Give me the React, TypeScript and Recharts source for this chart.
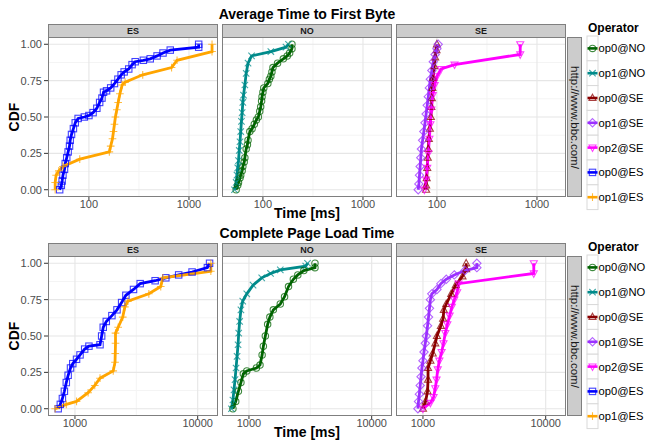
import React from 'react'
import { LineChart, Line, XAxis, YAxis, ReferenceLine } from 'recharts'

// time (ms), CDF pairs
// --- Average Time to First Byte
const ttfbOp0NO = [[54, 0], [56, 0.03], [57, 0.05], [59, 0.08], [60, 0.1], [62, 0.13], [63, 0.16], [65, 0.19], [66, 0.22], [68, 0.28], [70, 0.31], [71, 0.34], [74, 0.4], [78, 0.42], [82, 0.45], [86, 0.48], [90, 0.5], [93, 0.54], [95, 0.57], [97, 0.61], [98, 0.64], [100, 0.67], [102, 0.7], [112, 0.73], [116, 0.76], [120, 0.78], [123, 0.81], [126, 0.84], [140, 0.87], [160, 0.9], [175, 0.92], [185, 0.94], [195, 0.97], [195, 1.0]]
const ttfbOp1NO = [[52, 0], [54, 0.05], [55, 0.1], [56, 0.15], [57, 0.2], [58, 0.27], [59, 0.33], [60, 0.4], [61, 0.47], [62, 0.53], [63, 0.6], [64, 0.65], [66, 0.72], [68, 0.8], [71, 0.87], [77, 0.92], [120, 0.95], [170, 0.98], [180, 1.0]]
const ttfbOp0SE = [[78, 0], [78, 0.03], [79, 0.08], [80, 0.15], [81, 0.22], [82, 0.28], [83, 0.35], [85, 0.42], [87, 0.5], [88, 0.57], [89, 0.63], [90, 0.7], [92, 0.77], [94, 0.85], [96, 0.91], [99, 0.96], [100, 1.0]]
const ttfbOp1SE = [[65, 0], [66, 0.04], [67, 0.1], [68, 0.16], [69, 0.22], [70, 0.28], [72, 0.34], [74, 0.4], [76, 0.46], [78, 0.52], [80, 0.58], [82, 0.64], [84, 0.7], [86, 0.76], [89, 0.82], [92, 0.88], [96, 0.93], [100, 0.97], [103, 1.0]]
const ttfbOp2SE = [[75, 0], [78, 0.07], [80, 0.15], [82, 0.25], [84, 0.35], [86, 0.45], [88, 0.55], [91, 0.65], [95, 0.72], [100, 0.78], [110, 0.83], [150, 0.86], [680, 0.93], [680, 1.0]]
const ttfbOp0ES = [[51, 0], [53, 0.03], [54, 0.06], [55, 0.1], [57, 0.14], [58, 0.18], [60, 0.22], [62, 0.26], [64, 0.3], [65, 0.34], [67, 0.38], [70, 0.42], [73, 0.46], [78, 0.49], [90, 0.5], [100, 0.51], [110, 0.53], [120, 0.56], [128, 0.6], [135, 0.63], [140, 0.67], [150, 0.68], [165, 0.7], [180, 0.73], [195, 0.76], [210, 0.79], [225, 0.81], [250, 0.83], [270, 0.86], [290, 0.88], [350, 0.89], [410, 0.9], [480, 0.92], [550, 0.94], [650, 0.96], [1250, 0.98], [1250, 1.0]]
const ttfbOp1ES = [[46, 0], [46, 0.05], [47, 0.1], [50, 0.13], [55, 0.16], [81, 0.21], [160, 0.26], [165, 0.3], [172, 0.35], [176, 0.4], [180, 0.45], [184, 0.5], [190, 0.55], [196, 0.6], [204, 0.66], [215, 0.72], [230, 0.74], [345, 0.79], [670, 0.84], [760, 0.89], [1700, 0.95], [1700, 1.0]]

// --- Complete Page Load Time
const pltOp0NO = [[740, 0], [780, 0.05], [820, 0.12], [860, 0.18], [900, 0.24], [960, 0.26], [1150, 0.28], [1230, 0.3], [1280, 0.37], [1310, 0.43], [1360, 0.5], [1420, 0.58], [1480, 0.63], [1580, 0.68], [1800, 0.72], [1950, 0.77], [2100, 0.84], [2300, 0.89], [2500, 0.92], [2800, 0.95], [3450, 0.97], [3450, 1.0]]
const pltOp1NO = [[720, 0], [740, 0.06], [755, 0.13], [770, 0.2], [785, 0.28], [800, 0.36], [815, 0.44], [825, 0.52], [840, 0.6], [860, 0.68], [890, 0.74], [960, 0.79], [1080, 0.85], [1270, 0.9], [1500, 0.93], [1800, 0.955], [2900, 0.98], [3000, 1.0]]
const pltOp0SE = [[1000, 0], [1050, 0.05], [1090, 0.12], [1100, 0.2], [1100, 0.28], [1150, 0.33], [1200, 0.38], [1260, 0.45], [1300, 0.5], [1400, 0.57], [1460, 0.62], [1480, 0.68], [1550, 0.72], [1700, 0.79], [1850, 0.85], [2100, 0.91], [2250, 0.96], [2250, 1.0]]
const pltOp1SE = [[910, 0], [920, 0.05], [935, 0.1], [950, 0.16], [965, 0.22], [980, 0.28], [1000, 0.33], [1020, 0.39], [1045, 0.45], [1065, 0.5], [1090, 0.57], [1110, 0.63], [1130, 0.69], [1150, 0.75], [1180, 0.79], [1300, 0.82], [1400, 0.86], [1550, 0.89], [1800, 0.92], [2200, 0.95], [2750, 0.97], [2750, 1.0]]
const pltOp2SE = [[1000, 0], [1150, 0.04], [1220, 0.08], [1260, 0.14], [1290, 0.2], [1320, 0.27], [1360, 0.33], [1420, 0.39], [1470, 0.45], [1520, 0.52], [1580, 0.58], [1650, 0.64], [1720, 0.7], [1800, 0.75], [1900, 0.8], [1950, 0.86], [8000, 0.93], [8000, 1.0]]
const pltOp0ES = [[730, 0], [760, 0.03], [790, 0.07], [820, 0.12], [850, 0.18], [880, 0.23], [920, 0.28], [960, 0.31], [1030, 0.34], [1100, 0.37], [1200, 0.41], [1300, 0.43], [1600, 0.44], [1650, 0.5], [1700, 0.56], [1800, 0.6], [2000, 0.64], [2200, 0.68], [2400, 0.73], [2600, 0.78], [3000, 0.82], [3400, 0.86], [4500, 0.88], [5500, 0.9], [7000, 0.92], [9000, 0.94], [12000, 0.97], [12500, 1.0]]
const pltOp1ES = [[690, 0], [850, 0.03], [1030, 0.05], [1280, 0.11], [1450, 0.16], [1600, 0.21], [2050, 0.26], [2120, 0.32], [2130, 0.38], [2140, 0.45], [2140, 0.52], [2250, 0.56], [2450, 0.63], [2550, 0.7], [2700, 0.74], [4000, 0.79], [5000, 0.84], [5200, 0.9], [12800, 0.945], [12800, 1.0]]

const operators = ['op0@NO', 'op1@NO', 'op0@SE', 'op1@SE', 'op2@SE', 'op0@ES', 'op1@ES']
const colors = ['#006400', '#008B8B', '#8B0000', '#9B30FF', '#FF00FF', '#0000FF', '#FFA500']
const shapes = ['circle', 'cross', 'triUp', 'diamond', 'triDown', 'square', 'plus']

const facets = ['ES', 'NO', 'SE']
const facetOperators = [[5, 6], [0, 1], [2, 3, 4]]

const cdfTicks = [0, 0.25, 0.5, 0.75, 1]
const cdfMinor = [0.125, 0.375, 0.625, 0.875]

const ttfbSeries = [ttfbOp0NO, ttfbOp1NO, ttfbOp0SE, ttfbOp1SE, ttfbOp2SE, ttfbOp0ES, ttfbOp1ES]
const pltSeries = [pltOp0NO, pltOp1NO, pltOp0SE, pltOp1SE, pltOp2SE, pltOp0ES, pltOp1ES]

const PANEL_W = 170
const PANEL_H = 160
const Y_AXIS_W = 48
const facetLefts = [48, 222, 396]
const FONT = '"Liberation Sans", Arial, Helvetica, sans-serif'

function Marker({ cx, cy, shape, color }: { cx: number; cy: number; shape: string; color: string }) {
  const s = 3.2
  const st = { fill: 'none', stroke: color, strokeWidth: 1.1, strokeOpacity: 0.75 }
  switch (shape) {
    case 'circle':
      return <circle cx={cx} cy={cy} r={s} {...st} />
    case 'square':
      return <rect x={cx - s} y={cy - s} width={2 * s} height={2 * s} {...st} />
    case 'triUp':
      return <polygon points={`${cx},${cy - s * 1.2} ${cx + s * 1.1},${cy + s * 0.8} ${cx - s * 1.1},${cy + s * 0.8}`} {...st} />
    case 'triDown':
      return <polygon points={`${cx},${cy + s * 1.2} ${cx + s * 1.1},${cy - s * 0.8} ${cx - s * 1.1},${cy - s * 0.8}`} {...st} />
    case 'diamond':
      return <polygon points={`${cx},${cy - s * 1.3} ${cx + s * 1.3},${cy} ${cx},${cy + s * 1.3} ${cx - s * 1.3},${cy}`} {...st} />
    case 'plus':
      return <path d={`M${cx - s * 1.2},${cy}H${cx + s * 1.2}M${cx},${cy - s * 1.2}V${cy + s * 1.2}`} {...st} />
    default:
      return <path d={`M${cx - s},${cy - s}L${cx + s},${cy + s}M${cx - s},${cy + s}L${cx + s},${cy - s}`} {...st} />
  }
}

function Facet({ series, ops, domain, xTicks, minorX, left, top, showY }: any) {
  const yW = showY ? Y_AXIS_W : 0
  const tickStyle = { fontSize: 11, fill: '#4D4D4D', fontFamily: FONT }
  return (
    <div style={{ position: 'absolute', left: left - yW, top }}>
      <LineChart width={PANEL_W + yW} height={PANEL_H + 20} margin={{ top: 0, right: 0, bottom: 0, left: 0 }}>
        <XAxis type="number" dataKey="x" scale="log" domain={domain} ticks={xTicks} allowDataOverflow
          height={20} axisLine={false} tickSize={3} tickMargin={0} tick={tickStyle}
          tickLine={{ stroke: '#333333' }} interval={0} />
        <YAxis type="number" dataKey="y" domain={[-0.05, 1.05]} ticks={cdfTicks} allowDataOverflow
          hide={!showY} width={yW} axisLine={false} tickSize={4} tickMargin={2} tick={tickStyle}
          tickLine={{ stroke: '#333333' }} interval={0} tickFormatter={(v: number) => v.toFixed(2)} />
        {minorX.map((v: number) => <ReferenceLine key={`mx${v}`} x={v} stroke="#F4F4F4" strokeWidth={1} />)}
        {cdfMinor.map((v) => <ReferenceLine key={`my${v}`} y={v} stroke="#F4F4F4" strokeWidth={1} />)}
        {xTicks.map((v: number) => <ReferenceLine key={`gx${v}`} x={v} stroke="#E6E6E6" strokeWidth={1.1} />)}
        {cdfTicks.map((v) => <ReferenceLine key={`gy${v}`} y={v} stroke="#E6E6E6" strokeWidth={1.1} />)}
        {ops.map((i: number) => (
          <Line key={operators[i]} name={operators[i]} data={series[i].map(([x, y]: number[]) => ({ x, y }))}
            dataKey="y" type="linear" stroke={colors[i]} strokeWidth={2.8} isAnimationActive={false}
            dot={(p: any) => <Marker key={`${operators[i]}-${p.index}`} cx={p.cx} cy={p.cy} shape={shapes[i]} color={colors[i]} />}
            activeDot={false} />
        ))}
      </LineChart>
      <div style={{ position: 'absolute', left: yW, top: 0, width: PANEL_W, height: PANEL_H, border: '1px solid #7F7F7F', boxSizing: 'border-box', pointerEvents: 'none' }} />
    </div>
  )
}

function Row({ title, series, domain, xTicks, minorX, top }: any) {
  const plotTop = top + 37
  return (
    <>
      <div style={{ position: 'absolute', left: 48, width: 518, top: top + 6, textAlign: 'center', fontWeight: 'bold', fontSize: 14, lineHeight: '16px' }}>{title}</div>
      {facets.map((f, k) => (
        <div key={f} style={{ position: 'absolute', left: facetLefts[k], top: plotTop - 13, width: PANEL_W, height: 14, background: '#CCCCCC', border: '1px solid #7F7F7F', boxSizing: 'border-box', fontSize: 9, fontWeight: 'bold', color: '#1A1A1A', textAlign: 'center', lineHeight: '12px' }}>{f}</div>
      ))}
      {facets.map((f, k) => (
        <Facet key={f} series={series} ops={facetOperators[k]} domain={domain} xTicks={xTicks} minorX={minorX} left={facetLefts[k]} top={plotTop} showY={k === 0} />
      ))}
      <div style={{ position: 'absolute', left: 567, top: plotTop, width: 15, height: PANEL_H, background: '#CCCCCC', border: '1px solid #7F7F7F', boxSizing: 'border-box', display: 'flex', alignItems: 'center', justifyContent: 'center' }}>
        <span style={{ writingMode: 'vertical-rl', fontSize: 11.5, color: '#1A1A1A', whiteSpace: 'nowrap' }}>http://www.bbc.com/</span>
      </div>
      <div style={{ position: 'absolute', left: 0, top: plotTop + 80 - 10, width: 28, height: 20, display: 'flex', alignItems: 'center', justifyContent: 'center' }}>
        <span style={{ transform: 'rotate(-90deg)', fontWeight: 'bold', fontSize: 14, whiteSpace: 'nowrap' }}>CDF</span>
      </div>
      <div style={{ position: 'absolute', left: 48, width: 518, top: plotTop + PANEL_H + 8, textAlign: 'center', fontWeight: 'bold', fontSize: 14, lineHeight: '16px' }}>Time [ms]</div>
      <svg style={{ position: 'absolute', left: 583, top: top + 18 }} width={64} height={200}>
        <text x={5} y={14} fontWeight="bold" fontSize={12} fontFamily={FONT}>Operator</text>
        {operators.map((op, i) => {
          const y0 = 18 + i * 24.8
          const cy = y0 + 12.4
          return (
            <g key={op}>
              <rect x={4} y={y0} width={11} height={24.8} fill="#FFFFFF" stroke="#D9D9D9" strokeWidth={1} />
              <line x1={4.5} x2={14.5} y1={cy} y2={cy} stroke={colors[i]} strokeWidth={2.6} />
              <Marker cx={9.5} cy={cy} shape={shapes[i]} color={colors[i]} />
              <text x={15.5} y={cy + 4} fontSize={11.2} fontFamily={FONT}>{op}</text>
            </g>
          )
        })}
      </svg>
    </>
  )
}

export default function App() {
  return (
    <div style={{ position: 'absolute', left: 0, top: 0, width: 647, height: 440, background: '#FFFFFF', fontFamily: FONT, overflow: 'hidden' }}>
      <Row title="Average Time to First Byte" series={ttfbSeries} domain={[39, 1950]} xTicks={[100, 1000]} minorX={[316.2]} top={0} />
      <Row title="Complete Page Load Time" series={pltSeries} domain={[603, 14640]} xTicks={[1000, 10000]} minorX={[3162]} top={219} />
    </div>
  )
}
